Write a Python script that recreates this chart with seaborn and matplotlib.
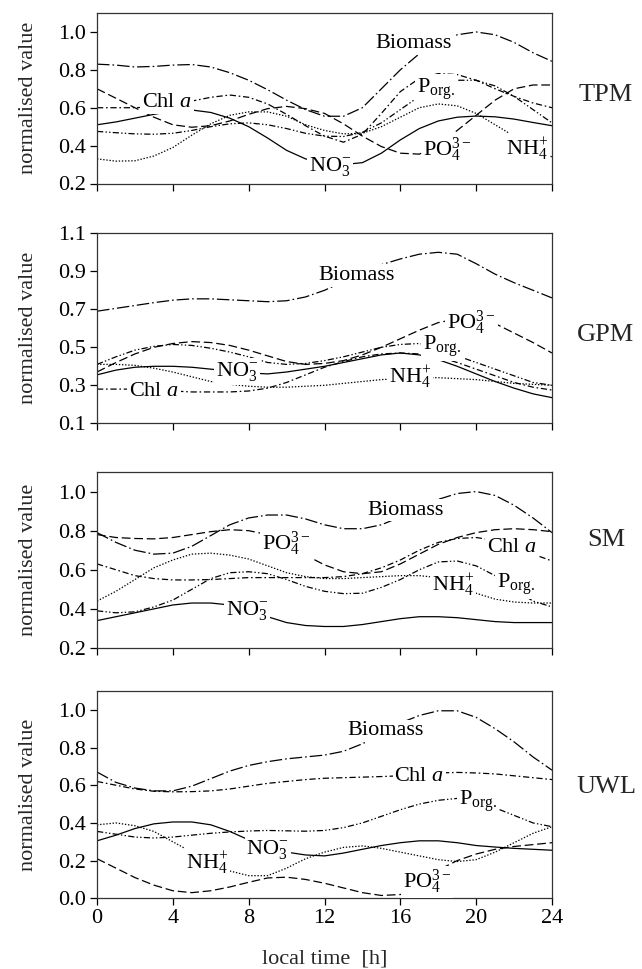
import matplotlib
matplotlib.use("Agg")
import matplotlib.pyplot as plt
import numpy as np
import pandas as pd
import seaborn as sns

# ---- data: normalised values, hourly over one day -------------------------
hours = list(range(25))

tpm_biomass = [0.83, 0.825, 0.815, 0.818, 0.825, 0.828, 0.815, 0.785, 0.745, 0.695, 0.64, 0.59, 0.555,
               0.555, 0.60, 0.70, 0.80, 0.885, 0.94, 0.985, 1.0, 0.985, 0.945, 0.89, 0.845]
tpm_chla = [0.60, 0.60, 0.60, 0.605, 0.615, 0.635, 0.655, 0.667, 0.655, 0.62, 0.565, 0.505, 0.45,
            0.418, 0.46, 0.57, 0.685, 0.755, 0.78, 0.775, 0.745, 0.70, 0.66, 0.625, 0.60]
tpm_porg = [0.475, 0.468, 0.462, 0.46, 0.465, 0.48, 0.50, 0.515, 0.52, 0.51, 0.49, 0.465, 0.45,
            0.448, 0.47, 0.52, 0.59, 0.66, 0.715, 0.745, 0.745, 0.715, 0.66, 0.59, 0.52]
tpm_no3 = [0.51, 0.525, 0.545, 0.565, 0.582, 0.588, 0.575, 0.545, 0.50, 0.44, 0.375, 0.33, 0.305,
           0.30, 0.31, 0.36, 0.43, 0.49, 0.53, 0.55, 0.556, 0.552, 0.54, 0.522, 0.505]
tpm_nh4 = [0.33, 0.318, 0.32, 0.345, 0.39, 0.455, 0.515, 0.56, 0.578, 0.578, 0.555, 0.51, 0.48,
           0.462, 0.465, 0.50, 0.55, 0.60, 0.62, 0.61, 0.57, 0.51, 0.45, 0.39, 0.34]
tpm_po4 = [0.70, 0.65, 0.60, 0.55, 0.51, 0.497, 0.505, 0.53, 0.565, 0.595, 0.607, 0.595, 0.57,
           0.515, 0.45, 0.395, 0.36, 0.355, 0.40, 0.48, 0.56, 0.64, 0.70, 0.72, 0.72]

gpm_biomass = [0.69, 0.705, 0.72, 0.735, 0.748, 0.755, 0.755, 0.75, 0.745, 0.74, 0.745, 0.765, 0.80,
               0.845, 0.895, 0.935, 0.965, 0.99, 1.0, 0.99, 0.94, 0.885, 0.84, 0.80, 0.76]
gpm_chla = [0.28, 0.28, 0.28, 0.275, 0.27, 0.265, 0.265, 0.265, 0.27, 0.285, 0.315, 0.355, 0.395,
            0.425, 0.45, 0.465, 0.47, 0.465, 0.45, 0.42, 0.385, 0.35, 0.315, 0.29, 0.275]
gpm_porg = [0.41, 0.45, 0.485, 0.505, 0.515, 0.51, 0.495, 0.475, 0.45, 0.42, 0.41, 0.415, 0.43,
            0.45, 0.475, 0.50, 0.515, 0.52, 0.50, 0.455, 0.42, 0.385, 0.35, 0.315, 0.30]
gpm_no3 = [0.355, 0.38, 0.395, 0.40, 0.40, 0.395, 0.385, 0.375, 0.365, 0.36, 0.37, 0.385, 0.40,
           0.42, 0.44, 0.46, 0.47, 0.46, 0.435, 0.40, 0.36, 0.32, 0.285, 0.255, 0.235]
gpm_nh4 = [0.41, 0.41, 0.405, 0.39, 0.37, 0.345, 0.32, 0.305, 0.295, 0.29, 0.29, 0.295, 0.30,
           0.31, 0.32, 0.33, 0.335, 0.34, 0.34, 0.335, 0.33, 0.32, 0.31, 0.305, 0.30]
gpm_po4 = [0.37, 0.42, 0.465, 0.50, 0.52, 0.53, 0.525, 0.51, 0.485, 0.455, 0.425, 0.41, 0.415,
           0.43, 0.46, 0.50, 0.545, 0.59, 0.63, 0.65, 0.65, 0.625, 0.575, 0.525, 0.47]

sm_biomass = [0.79, 0.74, 0.70, 0.68, 0.685, 0.72, 0.775, 0.83, 0.865, 0.88, 0.88, 0.86, 0.83,
              0.81, 0.81, 0.83, 0.87, 0.92, 0.96, 0.99, 1.0, 0.98, 0.93, 0.865, 0.79]
sm_chla = [0.63, 0.60, 0.57, 0.555, 0.548, 0.548, 0.55, 0.555, 0.56, 0.56, 0.56, 0.56, 0.56,
           0.565, 0.58, 0.61, 0.65, 0.70, 0.74, 0.76, 0.765, 0.75, 0.72, 0.68, 0.645]
sm_porg = [0.39, 0.38, 0.385, 0.41, 0.445, 0.50, 0.555, 0.585, 0.59, 0.58, 0.55, 0.515, 0.49,
           0.478, 0.48, 0.51, 0.55, 0.60, 0.64, 0.645, 0.62, 0.57, 0.50, 0.44, 0.41]
sm_no3 = [0.34, 0.36, 0.38, 0.40, 0.42, 0.43, 0.43, 0.42, 0.395, 0.36, 0.33, 0.315, 0.31,
          0.31, 0.32, 0.335, 0.35, 0.36, 0.36, 0.355, 0.345, 0.335, 0.33, 0.33, 0.33]
sm_nh4 = [0.44, 0.49, 0.55, 0.61, 0.65, 0.68, 0.685, 0.675, 0.655, 0.62, 0.585, 0.565, 0.555,
          0.555, 0.56, 0.565, 0.57, 0.57, 0.56, 0.52, 0.48, 0.45, 0.435, 0.43, 0.43]
sm_po4 = [0.78, 0.765, 0.76, 0.758, 0.765, 0.78, 0.795, 0.805, 0.80, 0.78, 0.73, 0.675, 0.625,
          0.59, 0.58, 0.59, 0.63, 0.68, 0.73, 0.765, 0.79, 0.805, 0.81, 0.805, 0.795]

uwl_biomass = [0.67, 0.615, 0.585, 0.57, 0.57, 0.595, 0.635, 0.675, 0.705, 0.725, 0.74, 0.75, 0.76,
               0.78, 0.82, 0.87, 0.93, 0.97, 0.995, 0.995, 0.96, 0.90, 0.83, 0.75, 0.68]
uwl_chla = [0.62, 0.60, 0.58, 0.568, 0.565, 0.566, 0.57, 0.58, 0.595, 0.61, 0.62, 0.63, 0.637,
            0.64, 0.643, 0.646, 0.65, 0.658, 0.665, 0.668, 0.665, 0.66, 0.65, 0.64, 0.63]
uwl_porg = [0.355, 0.34, 0.325, 0.32, 0.325, 0.335, 0.345, 0.352, 0.357, 0.36, 0.358, 0.356, 0.36,
            0.375, 0.40, 0.435, 0.47, 0.50, 0.52, 0.53, 0.52, 0.48, 0.44, 0.40, 0.38]
uwl_no3 = [0.305, 0.335, 0.37, 0.395, 0.405, 0.405, 0.39, 0.355, 0.31, 0.27, 0.245, 0.23, 0.225,
           0.24, 0.26, 0.28, 0.295, 0.305, 0.305, 0.295, 0.28, 0.272, 0.265, 0.26, 0.255]
uwl_nh4 = [0.39, 0.40, 0.385, 0.355, 0.30, 0.245, 0.19, 0.145, 0.12, 0.12, 0.16, 0.21, 0.245,
           0.27, 0.278, 0.265, 0.245, 0.225, 0.205, 0.195, 0.205, 0.245, 0.295, 0.345, 0.38]
uwl_po4 = [0.21, 0.16, 0.11, 0.07, 0.04, 0.03, 0.04, 0.06, 0.085, 0.108, 0.112, 0.10, 0.08,
           0.055, 0.03, 0.015, 0.02, 0.06, 0.15, 0.20, 0.235, 0.26, 0.275, 0.285, 0.295]

series = ["Biomass", "Chl a", "Porg", "NO3", "NH4", "PO4"]
station_names = ["TPM", "GPM", "SM", "UWL"]
station_values = [
    [tpm_biomass, tpm_chla, tpm_porg, tpm_no3, tpm_nh4, tpm_po4],
    [gpm_biomass, gpm_chla, gpm_porg, gpm_no3, gpm_nh4, gpm_po4],
    [sm_biomass, sm_chla, sm_porg, sm_no3, sm_nh4, sm_po4],
    [uwl_biomass, uwl_chla, uwl_porg, uwl_no3, uwl_nh4, uwl_po4],
]
y_limits = [(0.2, 1.1), (0.1, 1.1), (0.2, 1.1), (0.0, 1.1)]
y_ticks = [[0.2, 0.4, 0.6, 0.8, 1.0],
           [0.1, 0.3, 0.5, 0.7, 0.9, 1.1],
           [0.2, 0.4, 0.6, 0.8, 1.0],
           [0.0, 0.2, 0.4, 0.6, 0.8, 1.0]]
x_ticks = [0, 4, 8, 12, 16, 20, 24]

# ---- styling -------------------------------------------------------------
sns.set_theme(style="ticks")
plt.rcParams["font.family"] = ["Liberation Serif", "DejaVu Serif"]
plt.rcParams["mathtext.fontset"] = "custom"
plt.rcParams["mathtext.rm"] = "Liberation Serif"
plt.rcParams["mathtext.it"] = "Liberation Serif:italic"
plt.rcParams["mathtext.bf"] = "Liberation Serif:bold"

dash_styles = {
    "Biomass": (10, 2.4, 1.3, 2.4),
    "Chl a": (5.0, 2.2, 1.3, 2.2),
    "Porg": (5.0, 1.8, 1.1, 1.8, 1.1, 1.8),
    "NO3": "",
    "NH4": (1.1, 1.4),
    "PO4": (7.0, 3.0),
}
label_text = {
    "Biomass": "Biomass",
    "Chl a": r"Chl $\mathit{a}$",
    "Porg": r"P$_{\mathrm{org.}}$",
    "NO3": r"NO$_3^{-}$",
    "NH4": r"NH$_4^{+}$",
    "PO4": r"PO$_4^{3-}$",
}
# (hour, value) anchor of each in-line curve label
label_pos = [
    {"Biomass": (16.7, 0.94), "Porg": (17.9, 0.70), "Chl a": (3.7, 0.625),
     "NO3": (12.3, 0.29), "PO4": (18.5, 0.38), "NH4": (22.7, 0.385)},
    {"Biomass": (13.7, 0.877), "PO4": (19.75, 0.628), "Porg": (18.2, 0.505),
     "NO3": (7.4, 0.374), "NH4": (16.5, 0.347), "Chl a": (3.0, 0.268)},
    {"Biomass": (16.3, 0.905), "PO4": (10.0, 0.732), "Chl a": (21.9, 0.712),
     "NH4": (18.8, 0.525), "Porg": (22.1, 0.525), "NO3": (7.9, 0.393)},
    {"Biomass": (15.2, 0.888), "Chl a": (17.0, 0.646), "Porg": (20.1, 0.513),
     "NO3": (9.0, 0.257), "NH4": (5.8, 0.19), "PO4": (17.4, 0.088)},
]

# axes frames in pixel rows (top, bottom) of the 642 x 969 canvas
W_PX, H_PX = 642, 969
left_px, right_px = 97, 552
frames = [(13, 183.5), (233.3, 423.3), (472, 648), (691, 898.3)]
name_rows = [95, 335, 540, 787]

fig = plt.figure(figsize=(W_PX / 100, H_PX / 100), dpi=100)
fig.patch.set_facecolor("white")

for i, (name, values) in enumerate(zip(station_names, station_values)):
    top, bot = frames[i]
    ax = fig.add_axes([left_px / W_PX, 1 - bot / H_PX,
                       (right_px - left_px) / W_PX, (bot - top) / H_PX])
    df = pd.DataFrame({
        "hour": hours * len(series),
        "value": np.concatenate(values),
        "series": np.repeat(series, len(hours)),
    })
    sns.lineplot(data=df, x="hour", y="value", style="series", style_order=series,
                 dashes=dash_styles, color="black", linewidth=0.9, legend=False,
                 estimator=None, sort=False, ax=ax)

    for key, (hx, vy) in label_pos[i].items():
        ax.text(hx, vy, label_text[key], ha="center", va="center", fontsize=16,
                color="black", zorder=5,
                bbox=dict(boxstyle="square,pad=0.08", fc="white", ec="none"))

    ax.set_xlim(0, 24)
    ax.set_ylim(*y_limits[i])
    ax.set_xticks(x_ticks)
    ax.set_yticks(y_ticks[i])
    ax.set_yticklabels([f"{t:.1f}" for t in y_ticks[i]])
    ax.tick_params(direction="out", length=5, width=0.9, labelsize=16, pad=3,
                   colors="black")
    for sp in ax.spines.values():
        sp.set_visible(True)
        sp.set_linewidth(0.9)
        sp.set_color("#333333")
    ax.set_facecolor("white")
    ax.set_ylabel("normalised value", fontsize=16)
    ax.yaxis.set_label_coords(-0.13, 0.5)
    if i < 3:
        ax.set_xlabel("")
        ax.set_xticklabels([])
    else:
        ax.set_xticklabels([str(t) for t in x_ticks])
        ax.set_xlabel("local time  [h]", fontsize=16, labelpad=15)

    fig.text(606 / W_PX, 1 - name_rows[i] / H_PX, name, ha="center", va="center",
             fontsize=19)

fig.savefig("out.png", dpi=100)
